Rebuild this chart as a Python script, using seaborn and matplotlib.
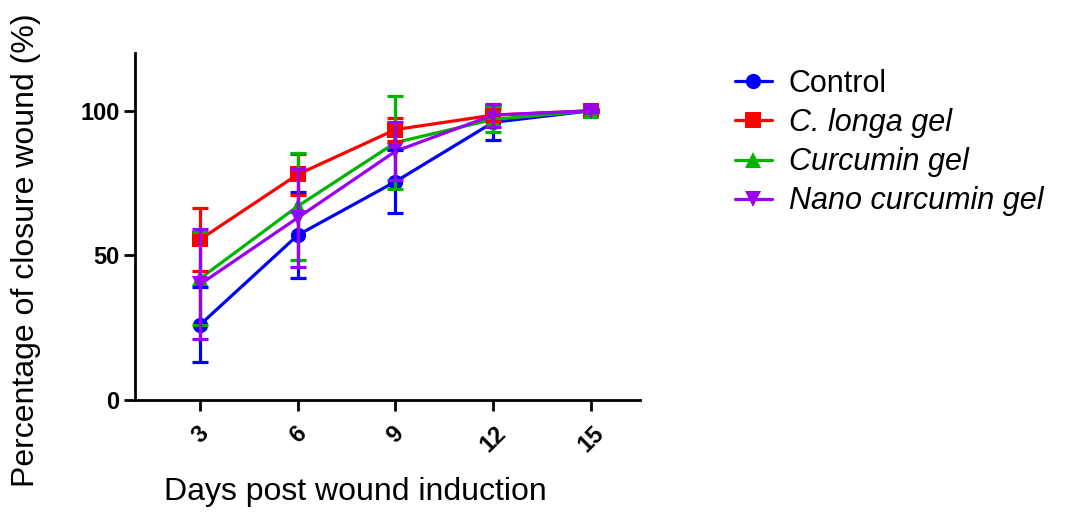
import numpy as np
import pandas as pd
import seaborn as sns
import matplotlib.pyplot as plt

# %%
days = [3, 6, 9, 12, 15]
groups = ["Control", "C. longa gel", "Curcumin gel", "Nano curcumin gel"]

control_mean = [26, 57, 75.5, 96, 100]
control_sd = [13, 15, 11, 6, 0.5]
clonga_mean = [55.5, 78, 93.5, 98.5, 100]
clonga_sd = [11, 7, 4, 2, 0.5]
curcumin_mean = [42, 67, 89, 97, 100]
curcumin_sd = [16, 18.5, 16, 4.5, 0.5]
nano_mean = [40, 63, 86, 98.5, 100]
nano_sd = [19, 17, 10, 4, 0.5]

means = [control_mean, clonga_mean, curcumin_mean, nano_mean]
sds = [control_sd, clonga_sd, curcumin_sd, nano_sd]

colors = ["#0000FF", "#FF0000", "#00B400", "#9B00F5"]
markers = ["o", "s", "^", "v"]

# %%
df = pd.concat(
    [
        pd.DataFrame({"day": days, "mean": m, "sd": s, "group": g})
        for g, m, s in zip(groups, means, sds)
    ]
)

sns.set_style("ticks")
plt.rcParams["font.family"] = ["Liberation Sans", "DejaVu Sans"]
plt.rcParams["text.color"] = "black"
plt.rcParams["axes.labelcolor"] = "black"
plt.rcParams["xtick.color"] = "black"
plt.rcParams["ytick.color"] = "black"

fig = plt.figure(figsize=(10.67, 5.14), dpi=100)
ax = fig.add_axes([0.1265, 0.222, 0.473, 0.675])

sns.lineplot(
    data=df,
    x="day",
    y="mean",
    hue="group",
    style="group",
    hue_order=groups,
    style_order=groups,
    palette=dict(zip(groups, colors)),
    markers=dict(zip(groups, markers)),
    dashes=False,
    markersize=11,
    markeredgewidth=0,
    linewidth=2.3,
    ax=ax,
)

# error bars (mean +/- SD)
for g, c in zip(groups, colors):
    sub = df[df["group"] == g]
    ax.errorbar(
        sub["day"], sub["mean"], yerr=sub["sd"], fmt="none",
        ecolor=c, elinewidth=2.3, capsize=6, capthick=2.3, zorder=3,
    )

ax.set_xlim(1, 16.5)
ax.set_ylim(0, 120)
ax.set_xticks(days)
ax.set_yticks([0, 50, 100])
ax.set_xticklabels([str(d) for d in days], rotation=45, ha="center",
                   fontsize=17, fontweight="bold")
ax.set_yticklabels(["0", "50", "100"], fontsize=17, fontweight="bold")
ax.tick_params(axis="both", length=8, width=2, color="black")
ax.tick_params(axis="x", pad=8)
ax.tick_params(axis="y", pad=3)
for side in ["left", "bottom"]:
    ax.spines[side].set_linewidth(2)
    ax.spines[side].set_color("black")
sns.despine(ax=ax)

ax.set_xlabel("Days post wound induction", fontsize=23)
ax.xaxis.set_label_coords(0.436, -0.222)
ax.set_ylabel("Percentage of closure wound (%)", fontsize=23)
ax.yaxis.label.set_va("center")
ax.yaxis.set_label_coords(-0.215, 0.432)

handles, labels = ax.get_legend_handles_labels()
ax.get_legend().remove()
leg = fig.legend(
    handles, labels, loc="upper left", bbox_to_anchor=(0.689, 0.866),
    frameon=False, fontsize=22, handlelength=1.2, handletextpad=0.55,
    labelspacing=0.3, borderpad=0, borderaxespad=0,
)
for t in leg.get_texts()[1:]:
    t.set_fontstyle("italic")

fig.savefig("out.png", dpi=100)
